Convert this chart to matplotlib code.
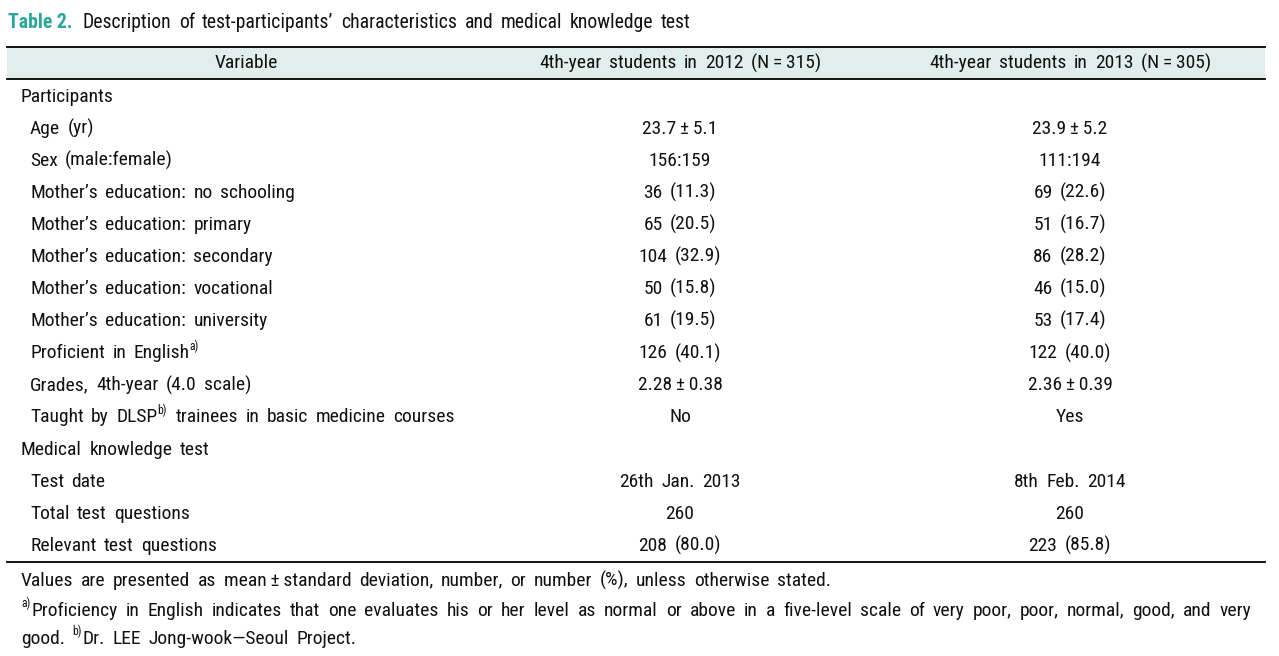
import matplotlib
matplotlib.use("Agg")
import matplotlib.pyplot as plt
from matplotlib.patches import Rectangle

plt.rcParams['font.family'] = ['Roboto Condensed', 'DejaVu Sans']

W, H = 1279, 656
title_label = "Table 2."
title_text = "Description of test-participants\u2019 characteristics and medical knowledge test"
headers = ["Variable", "4th-year students in 2012 (N\u2009=\u2009315)", "4th-year students in 2013 (N\u2009=\u2009305)"]

# rows: label runs (text, is_superscript)
row_labels = [
    [("Participants", False)],
    [("Age (yr)", False)],
    [("Sex (male:female)", False)],
    [("Mother\u2019s education: no schooling", False)],
    [("Mother\u2019s education: primary", False)],
    [("Mother\u2019s education: secondary", False)],
    [("Mother\u2019s education: vocational", False)],
    [("Mother\u2019s education: university", False)],
    [("Proficient in English", False), ("a)", True)],
    [("Grades, 4th-year (4.0 scale)", False)],
    [("Taught by DLSP", False), ("b)", True), (" trainees in basic medicine courses", False)],
    [("Medical knowledge test", False)],
    [("Test date", False)],
    [("Total test questions", False)],
    [("Relevant test questions", False)],
]
row_indent = [False, True, True, True, True, True, True, True, True, True, True, False, True, True, True]
values_2012 = ["", "23.7\u2009\u00b1\u20095.1", "156:159", "36 (11.3)", "65 (20.5)", "104 (32.9)", "50 (15.8)",
               "61 (19.5)", "126 (40.1)", "2.28\u2009\u00b1\u20090.38", "No", "", "26th Jan. 2013", "260", "208 (80.0)"]
values_2013 = ["", "23.9\u2009\u00b1\u20095.2", "111:194", "69 (22.6)", "51 (16.7)", "86 (28.2)", "46 (15.0)",
               "53 (17.4)", "122 (40.0)", "2.36\u2009\u00b1\u20090.39", "Yes", "", "8th Feb. 2014", "260", "223 (85.8)"]

foot1 = "Values are presented as mean\u2009\u00b1\u2009standard deviation, number, or number (%), unless otherwise stated."
foot2_words = "Proficiency in English indicates that one evaluates his or her level as normal or above in a five-level scale of very poor, poor, normal, good, and very".split()
foot3 = [("good. ", False), ("b)", True), ("Dr. LEE Jong-wook\u2014Seoul Project.", False)]

FS = 14
SUP = 8.5
TXT = "#111111"
TEAL = "#2aa79a"
BAND = "#e0efec"

fig = plt.figure(figsize=(W / 100, H / 100), dpi=100)
ax = fig.add_axes([0, 0, 1, 1])
ax.set_xlim(0, W)
ax.set_ylim(H, 0)
ax.axis("off")
fig.canvas.draw()
renderer = fig.canvas.get_renderer()


def width_of(t):
    return t.get_window_extent(renderer).width


def words_text(x, y, s, ha="left", fs=FS, color=TXT, weight="normal", sp=None):
    """Draw a string word by word with a given inter-word space (px)."""
    words = s.split(" ")
    objs = []
    total = 0
    for wd in words:
        t = ax.text(0, y, wd, fontsize=fs, color=color, va="baseline", ha="left", fontweight=weight)
        w = width_of(t)
        objs.append((t, w))
        total += w
    gap = SP if sp is None else sp
    total += gap * (len(words) - 1)
    x0 = x - total / 2 if ha == "center" else x
    for t, w in objs:
        t.set_x(x0)
        x0 += w + gap
    return x0 - gap


def runs(x, y, parts, ha="left", fs=FS):
    xx = x
    for s, sup in parts:
        if sup:
            t = ax.text(xx, y - 8, s, fontsize=SUP, color=TXT, va="baseline", ha="left")
            xx += width_of(t) + 1
        else:
            if s.startswith(" "):
                xx += SP
            xx = words_text(xx, y, s.strip(), fs=fs)
            if s.endswith(" "):
                xx += SP
    return xx


SP = 7.5
BASE = 5.5  # baseline offset below row center

# title
t1 = ax.text(8, 22 + BASE, title_label, fontsize=FS + 0.2, color=TEAL, fontweight="bold", va="baseline", ha="left")
w1 = width_of(t1)
words_text(8 + w1 + 10, 22 + BASE, title_text, fs=FS + 0.2)

# header band
ax.add_patch(Rectangle((7, 47), 1258, 32, facecolor=BAND, edgecolor="none"))
ax.plot([7, 1265], [47, 47], color="black", lw=1.3)
ax.plot([7, 1265], [79, 79], color="black", lw=1.3)
col_x = [246, 680, 1070]
for cx, h in zip(col_x, headers):
    words_text(cx, 63 + BASE, h, ha="center")

y0 = 96
dy = 32.1
for i, parts in enumerate(row_labels):
    y = y0 + i * dy + BASE
    runs(30 if row_indent[i] else 21, y, parts)
    if values_2012[i]:
        words_text(col_x[1], y, values_2012[i], ha="center")
    if values_2013[i]:
        words_text(col_x[2], y, values_2013[i], ha="center")

ax.plot([7, 1265], [562, 562], color="black", lw=1.3)

# footnotes
words_text(21, 580 + BASE, foot1)
# justified line 2
ta = ax.text(21, 610 + BASE - 8, "a)", fontsize=SUP, color=TXT, va="baseline", ha="left")
xa = 21 + width_of(ta) + 1
objs = []
tw = 0
for wd in foot2_words:
    t = ax.text(0, 610 + BASE, wd, fontsize=FS, color=TXT, va="baseline", ha="left")
    w = width_of(t)
    objs.append((t, w))
    tw += w
right = 1251
gap = (right - xa - tw) / (len(objs) - 1)
xx = xa
for t, w in objs:
    t.set_x(xx)
    xx += w + gap
runs(21, 638 + BASE, foot3)

fig.savefig("out.png", dpi=100)
